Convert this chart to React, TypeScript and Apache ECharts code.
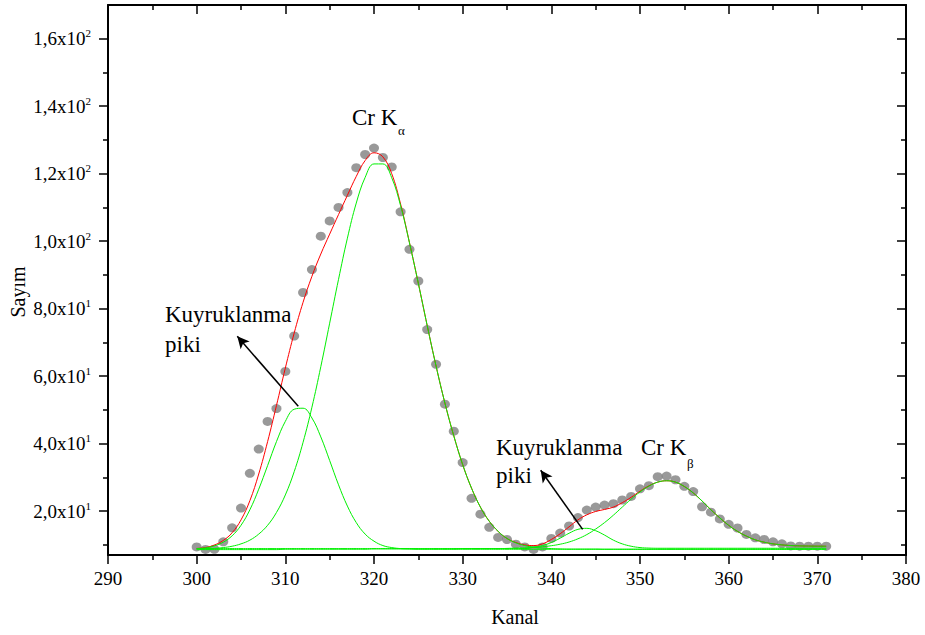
import React, { useEffect, useRef } from "react";
import * as echarts from "echarts";

// Channel numbers (Kanal)
const channels = [
  300, 301, 302, 303, 304, 305, 306, 307, 308, 309,
  310, 311, 312, 313, 314, 315, 316, 317, 318, 319,
  320, 321, 322, 323, 324, 325, 326, 327, 328, 329,
  330, 331, 332, 333, 334, 335, 336, 337, 338, 339,
  340, 341, 342, 343, 344, 345, 346, 347, 348, 349,
  350, 351, 352, 353, 354, 355, 356, 357, 358, 359,
  360, 361, 362, 363, 364, 365, 366, 367, 368, 369,
  370, 371,
];

// Measured counts (Sayım)
const counts = [
  9.4, 8.65, 8.7, 10.9, 15.05, 20.9, 31.2, 38.4, 46.6, 50.4,
  61.4, 71.9, 84.8, 91.6, 101.5, 106.0, 110.0, 114.4, 121.8, 125.7,
  127.6, 124.8, 122.0, 108.7, 97.6, 88.2, 73.8, 63.5, 51.7, 43.7,
  34.4, 23.8, 19.1, 15.2, 12.2, 11.6, 10.2, 9.4, 8.65, 9.4,
  11.9, 13.5, 15.6, 18.1, 20.3, 21.2, 21.8, 22.2, 23.3, 24.35,
  26.6, 27.55, 30.2, 30.4, 29.3, 27.35, 25.8, 21.3, 19.7, 17.7,
  16.1, 15.0, 13.1, 12.1, 11.6, 10.9, 10.3, 9.7, 9.6, 9.6,
  9.6, 9.6,
];

// Total fit (red)
const fitTotal = [
  8.95, 9.2, 9.95, 11.3, 13.6, 17.4, 23.1, 31.0, 40.6, 51.3,
  62.4, 72.8, 81.9, 89.6, 96.2, 102.1, 107.9, 113.6, 119.2, 123.9,
  126.2, 125.0, 120.0, 111.0, 99.6, 87.5, 75.0, 63.0, 52.0, 42.3,
  33.8, 26.8, 21.2, 17.0, 14.0, 11.9, 10.7, 10.0, 9.8, 10.3,
  11.6, 13.3, 15.35, 17.4, 18.9, 19.9, 20.5, 21.2, 22.5, 24.1,
  25.9, 27.5, 28.6, 29.0, 28.6, 27.3, 25.4, 23.0, 20.4, 18.0,
  15.8, 14.0, 12.6, 11.5, 10.8, 10.3, 10.0, 9.8, 9.7, 9.65,
  9.62, 9.6,
];

// Cr K-alpha main peak (green)
const kAlphaMain = [
  8.75, 8.8, 8.95, 9.2, 9.6, 10.3, 11.4, 13.2, 15.8, 19.6,
  24.8, 31.7, 40.4, 50.8, 62.8, 75.7, 88.7, 100.9, 111.3, 118.9,
  122.9, 122.9, 118.8, 110.5, 99.5, 87.5, 75.0, 63.0, 52.0, 42.3,
  33.8, 26.8, 21.2, 17.0, 14.0, 11.9, 10.6, 9.8, 9.3, 9.05,
  8.9, 8.8, 8.75, 8.75, 8.75, 8.75, 8.7, 8.7, 8.7, 8.7,
  8.7, 8.7, 8.7, 8.7, 8.7, 8.7, 8.7, 8.7, 8.7, 8.7,
  8.7, 8.7, 8.7, 8.7, 8.7, 8.7, 8.7, 8.7, 8.7, 8.7,
  8.7, 8.7,
];

// K-alpha tailing peak (green)
const kAlphaTail = [
  8.9, 9.1, 9.7, 10.8, 12.7, 15.8, 20.4, 26.5, 33.5, 40.6,
  46.6, 50.2, 50.5, 47.6, 42.0, 35.0, 27.8, 21.5, 16.6, 13.2,
  11.1, 9.8, 9.2, 8.9, 8.8, 8.7, 8.7, 8.7, 8.7, 8.7,
  8.7, 8.7, 8.7, 8.7, 8.7, 8.7, 8.7, 8.7, 8.7, 8.7,
  8.7, 8.7, 8.7, 8.7, 8.7, 8.7, 8.7, 8.7, 8.7, 8.7,
  8.7, 8.7, 8.7, 8.7, 8.7, 8.7, 8.7, 8.7, 8.7, 8.7,
  8.7, 8.7, 8.7, 8.7, 8.7, 8.7, 8.7, 8.7, 8.7, 8.7,
  8.7, 8.7,
];

// Cr K-beta main peak (green)
const kBetaMain = [
  8.6, 8.6, 8.6, 8.6, 8.6, 8.6, 8.6, 8.6, 8.6, 8.6,
  8.7, 8.7, 8.7, 8.7, 8.7, 8.7, 8.7, 8.7, 8.7, 8.7,
  8.8, 8.8, 8.8, 8.8, 8.8, 8.8, 8.8, 8.8, 8.8, 8.8,
  8.9, 8.9, 8.9, 8.9, 8.9, 8.95, 9.05, 9.1, 9.25, 9.45,
  9.75, 10.2, 10.85, 11.8, 13.05, 14.7, 16.6, 18.8, 21.2, 23.55,
  25.7, 27.4, 28.6, 29.0, 28.6, 27.3, 25.4, 23.0, 20.4, 18.0,
  15.8, 14.0, 12.6, 11.5, 10.8, 10.3, 10.0, 9.8, 9.7, 9.65,
  9.62, 9.6,
];

// K-beta tailing peak (green)
const kBetaTail = [
  8.9, 8.9, 8.9, 8.9, 8.9, 8.9, 8.9, 8.9, 8.9, 8.9,
  8.9, 8.9, 8.9, 8.9, 8.9, 8.9, 8.9, 8.9, 8.9, 8.9,
  8.9, 8.9, 8.9, 8.9, 8.9, 8.9, 8.9, 8.9, 8.9, 8.9,
  8.9, 8.9, 8.9, 8.9, 8.9, 8.9, 8.9, 8.9, 9.3, 9.8,
  10.7, 12.0, 13.45, 14.6, 14.9, 14.2, 12.9, 11.4, 10.3, 9.6,
  9.2, 9.05, 9.0, 9.0, 9.0, 9.0, 9.0, 9.0, 9.0, 9.0,
  9.0, 9.0, 9.0, 9.0, 9.0, 9.0, 9.0, 9.0, 9.0, 9.0,
  9.0, 9.0,
];

// Axis ticks
const yTickValues = [20, 40, 60, 80, 100, 120, 140, 160];
const yTickMantissa = ["2,0", "4,0", "6,0", "8,0", "1,0", "1,2", "1,4", "1,6"];
const yTickExponent = ["1", "1", "1", "1", "2", "2", "2", "2"];
const yMinorTicks = [10, 30, 50, 70, 90, 110, 130, 150];

// Annotation arrows [from, to] in data units
const arrowKAlphaTail = [[311.46, 51.1], [304.58, 71.8]];
const arrowKBetaTail = [[343.53, 14.6], [338.8, 32.1]];

const FONT = "Liberation Serif";

const pairs = (ys: number[]) => channels.map((c, i) => [c, ys[i]]);

export default function App() {
  const ref = useRef<HTMLDivElement>(null);

  useEffect(() => {
    if (!ref.current) return;
    const chart = echarts.init(ref.current, null, { renderer: "svg" });

    const axisLine = { show: true, lineStyle: { color: "#000", width: 2 } };
    const baseY = { type: "value", min: 7, max: 170, splitLine: { show: false } };
    const baseX = {
      type: "value",
      min: 290,
      max: 380,
      interval: 10,
      splitLine: { show: false },
    };

    const greenLine = (name: string, ys: number[]) => ({
      name,
      type: "line",
      data: pairs(ys),
      smooth: 0.4,
      showSymbol: false,
      symbol: "none",
      lineStyle: { color: "#00f000", width: 1 },
      z: 4,
    });

    const label = (text: string, x: number, y: number, size: number) => ({
      type: "text",
      x,
      y,
      style: { text, fontFamily: FONT, fontSize: size, fill: "#000", verticalAlign: "top" },
    });

    const option: any = {
      animation: false,
      backgroundColor: "#fff",
      textStyle: { fontFamily: FONT },
      grid: { left: 108, right: 19, top: 5, bottom: 80 },
      xAxis: [
        {
          ...baseX,
          position: "bottom",
          axisLine,
          axisTick: { show: true, inside: false, length: 9, lineStyle: { color: "#000", width: 1.5 } },
          minorTick: { show: true, splitNumber: 2, length: 5, lineStyle: { color: "#000", width: 1.5 } },
          axisLabel: { color: "#000", fontFamily: FONT, fontSize: 19, margin: 14 },
        },
        {
          ...baseX,
          position: "top",
          axisLine,
          axisTick: { show: true, inside: true, length: 9, lineStyle: { color: "#000", width: 1.5 } },
          minorTick: { show: true, splitNumber: 2, length: 5, lineStyle: { color: "#000", width: 1.5 } },
          axisLabel: { show: false },
        },
      ],
      yAxis: [
        {
          ...baseY,
          position: "left",
          axisLine,
          axisTick: {
            show: true,
            inside: false,
            length: 9,
            customValues: yTickValues,
            lineStyle: { color: "#000", width: 1.5 },
          },
          axisLabel: {
            color: "#000",
            margin: 17,
            fontFamily: FONT,
            customValues: yTickValues,
            formatter: (v: number) => {
              const i = yTickValues.indexOf(v);
              return `{m|${yTickMantissa[i]}x10}{e|${yTickExponent[i]}}`;
            },
            rich: {
              m: { fontFamily: FONT, fontSize: 19, color: "#000", lineHeight: 22 },
              e: { fontFamily: FONT, fontSize: 11, color: "#000", verticalAlign: "top", lineHeight: 12 },
            },
          },
        },
        {
          ...baseY,
          position: "left",
          axisLine: { show: false },
          axisTick: {
            show: true,
            inside: false,
            length: 5,
            customValues: yMinorTicks,
            lineStyle: { color: "#000", width: 1.5 },
          },
          axisLabel: { show: false },
        },
        {
          ...baseY,
          position: "right",
          axisLine,
          axisTick: {
            show: true,
            inside: true,
            length: 9,
            customValues: yTickValues,
            lineStyle: { color: "#000", width: 1.5 },
          },
          axisLabel: { show: false },
        },
        {
          ...baseY,
          position: "right",
          axisLine: { show: false },
          axisTick: {
            show: true,
            inside: true,
            length: 5,
            customValues: yMinorTicks,
            lineStyle: { color: "#000", width: 1.5 },
          },
          axisLabel: { show: false },
        },
      ],
      series: [
        {
          name: "Sayım",
          type: "scatter",
          data: pairs(counts),
          symbol: "circle",
          symbolSize: [10, 9],
          itemStyle: { color: "#7f7f7f" },
          z: 2,
          markLine: {
            silent: true,
            symbol: ["none", "arrow"],
            symbolSize: [9, 12],
            label: { show: false },
            lineStyle: { color: "#000", width: 1.5, type: "solid" },
            data: [
              [{ coord: arrowKAlphaTail[0] }, { coord: arrowKAlphaTail[1] }],
              [{ coord: arrowKBetaTail[0] }, { coord: arrowKBetaTail[1] }],
            ],
          },
        },
        {
          name: "Fit",
          type: "line",
          data: pairs(fitTotal),
          smooth: 0.4,
          showSymbol: false,
          symbol: "none",
          lineStyle: { color: "#ff0000", width: 1 },
          z: 3,
        },
        greenLine("Cr Kα", kAlphaMain),
        greenLine("Kα kuyruk", kAlphaTail),
        greenLine("Cr Kβ", kBetaMain),
        greenLine("Kβ kuyruk", kBetaTail),
      ],
      graphic: [
        label("Cr K", 352, 106, 23),
        label("α", 398, 124, 13),
        label("Cr K", 641, 436, 23),
        label("β", 687, 457, 13),
        label("Kuyruklanma", 165, 303, 23),
        label("piki", 165, 333, 23),
        label("Kuyruklanma", 496, 436, 23),
        label("piki", 496, 464, 23),
        {
          type: "text",
          x: 515,
          y: 617,
          style: { text: "Kanal", fontFamily: FONT, fontSize: 20, fill: "#000", align: "center", verticalAlign: "middle" },
        },
        {
          type: "text",
          x: 18,
          y: 292,
          rotation: Math.PI / 2,
          style: { text: "Sayım", fontFamily: FONT, fontSize: 20, fill: "#000", align: "center", verticalAlign: "middle" },
        },
      ],
    };

    chart.setOption(option);
    return () => chart.dispose();
  }, []);

  return (
    <div
      ref={ref}
      style={{ position: "absolute", left: 0, top: 0, width: 925, height: 635, background: "#fff" }}
    />
  );
}
